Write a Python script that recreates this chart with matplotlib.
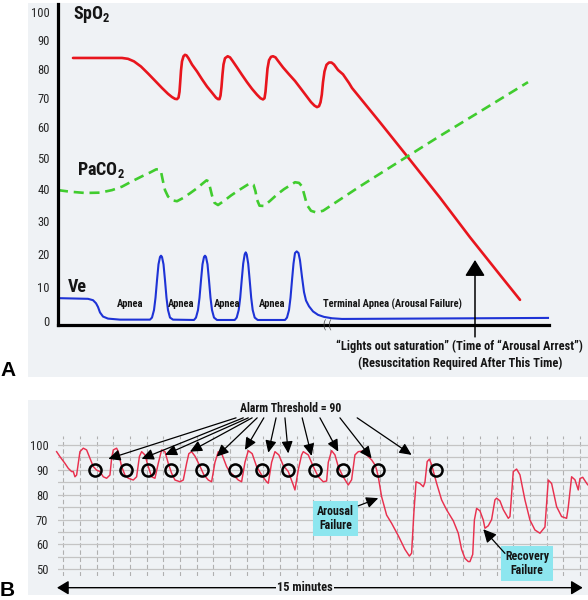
import numpy as np
import matplotlib
matplotlib.use("Agg")
import matplotlib.pyplot as plt
from matplotlib import font_manager as fm
from matplotlib.patches import Rectangle

# ---------------- Panel A data (time units arbitrary) ----------------
A_YTICKS = [0, 10, 20, 30, 40, 50, 60, 70, 80, 90, 100]

SPO2_T = [15, 64, 70, 76, 83, 90, 97, 104, 110, 114, 117, 119,
          120.5, 121.5, 122.2, 123, 124, 125.5, 127, 128.5, 130.5,
          134, 139, 144, 149, 154, 158, 160, 161.5,
          162.5, 163.5, 164.5, 165.5, 167, 169.7, 172, 174.5,
          179, 184, 189, 194, 199, 202.5, 205, 206.5,
          207.5, 208.5, 209.5, 211, 213, 215, 217.5, 220,
          225, 231, 237, 243, 249, 253, 256.5, 259, 261, 262.5, 263.8, 265,
          266.5, 268.5, 271, 273.5, 276, 280, 285, 291, 294,
          322, 350, 382, 412, 442, 462]
SPO2_V = [83.7, 83.7, 83.4, 82.5, 80.7, 78.3, 75.8, 73.3, 71.3, 70.2, 69.6, 69.5,
          70, 72, 75.3, 79.3, 82.5, 84.3, 84.8, 84.6, 83.6,
          81.4, 79, 76.3, 73.8, 71.7, 70, 69.5, 69.5,
          70.7, 73.7, 78, 81.4, 83.6, 84.3, 83.9, 82.7,
          80.4, 77.8, 75.3, 73, 71, 69.8, 69.4, 69.8,
          72, 76, 80, 82.9, 84.1, 84.3, 83.9, 82.7,
          80.4, 78, 75.7, 73, 70.3, 68.5, 67.3, 66.8, 67.1, 68.4, 71, 75.3,
          79, 81.3, 82.1, 82.1, 81.4, 79.5, 78, 75, 73.3,
          61.7, 50.2, 37.3, 25.0, 13.6, 6.2]

PACO2_T = [0, 12, 27, 42, 54, 64, 74, 84, 92, 98, 101, 103, 105, 107, 110, 114, 119,
           125, 132, 139, 145, 148.5, 150.5, 152, 154, 156.5, 160, 166, 173, 180, 187,
           192, 195.5, 197.5, 199, 201.5, 206, 212, 219, 226, 233, 237, 241, 244,
           246.5, 249, 253, 258, 265, 302, 342, 382, 422, 470]
PACO2_V = [39.7, 39.2, 38.8, 38.9, 39.7, 40.8, 42.5, 44.1, 45.3, 46.3, 46.4, 45.6, 42.5,
           39.7, 37.7, 36.5, 36.2, 37.2, 38.7, 40.3, 41.9, 42.8, 42.5, 40.6, 38, 35.7,
           35, 36.3, 38, 39.5, 40.9, 41.9, 41.4, 39.3, 36.7, 34.8, 34.7, 36.3, 38.3,
           40, 41.4, 42.2, 42, 40.9, 38, 35, 33.2, 32.7, 33.2, 40.9, 49, 57.2, 65.3, 75.3]

VE_T = [0, 30, 35, 38, 40, 42, 45, 50, 62,
        92, 94, 96, 97.5, 99, 100.5, 102, 103, 104, 105.5, 107, 108.5, 110, 112, 115,
        136, 138, 140, 141.5, 143, 144.5, 146, 147, 148, 149.5, 151, 152.5, 154, 156, 159,
        176.7, 178.7, 180.7, 182.2, 183.7, 185.2, 186.7, 187.7, 188.7, 190.2, 191.7, 193.2,
        194.7, 196.7, 199.7,
        227, 229, 231, 232.5, 234, 235.5, 237, 238.7, 240.5, 242, 244, 246, 248, 251,
        255, 260, 266, 274, 284, 490]
VE_V = [6.7, 6.5, 6.1, 5.2, 4.1, 2.5, 1.3, 0.7, 0.4,
        0.4, 1.0, 3.2, 6.8, 12, 16.8, 19, 19.4, 19, 16.8, 12, 6.8, 3.2, 1.0, 0.4,
        0.3, 1.0, 3.2, 6.8, 12, 16.8, 19, 19.4, 19, 16.8, 12, 6.8, 3.2, 1.0, 0.3,
        0.3, 1.0, 3.2, 6.8, 12, 17, 19.8, 20.4, 19.8, 17, 12, 6.8,
        3.2, 1.0, 0.3,
        0.3, 1.0, 3.2, 6.8, 12, 17, 20.2, 20.7, 20.2, 18, 13, 8.5, 6, 4.3,
        2.8, 1.8, 1.2, 0.8, 0.6, 0.9]

APNEA_T = [72, 123, 169, 214]
TERMINAL_T = 334
LIGHTS_OUT_T = 417

# ---------------- Panel B data (seconds) ----------------
B_YTICKS = [50, 60, 70, 80, 90, 100]
B_SEC = [-12, -6, 3, 9, 15, 18, 21, 24, 27, 30, 36, 42, 48, 54, 60, 66, 72, 78, 84, 87,
         90, 96, 99, 105, 111, 117, 126, 132, 137, 141, 147, 153, 159, 165, 171, 177,
         183, 189, 195, 201, 210, 216, 222, 226, 231, 237, 246, 253, 261, 267, 273,
         279, 286, 294, 300, 306, 315, 321, 327, 333, 340, 348, 357, 366, 369, 375,
         381, 388, 396, 405, 414, 417, 423, 429, 432, 441, 450, 459, 468, 474, 477,
         483, 489, 495, 503, 513, 519, 525, 531, 538, 546, 555, 561, 564, 567, 573,
         582, 591, 603, 615, 623, 627, 631, 635, 642, 648, 651, 655, 659, 663, 672,
         681, 690, 702, 711, 717, 723, 729, 732, 737, 740, 744, 750, 756, 759, 765,
         771, 777, 780, 786, 792, 801, 804, 810, 816, 822, 831, 840, 849, 858, 867,
         873, 879, 888, 897, 906, 909, 915, 921, 927, 930, 935, 942, 944]
B_SPO2 = [97.3, 95.3, 92.6, 90.6, 89.3, 89.3, 87.2, 87.9, 92.6, 97.3, 98.7, 98, 94.6,
          91.3, 89.9, 89.3, 87.2, 86.6, 87.9, 94.6, 98, 98.7, 97.3, 91.3, 87.9, 86.6,
          85.9, 87.2, 95.3, 97.3, 96, 91.3, 87.2, 86.6, 92.6, 98, 97.3, 92.6, 88.6,
          85.9, 85.2, 85.9, 92.6, 96.5, 97.3, 95.5, 91.5, 88, 85.9, 85.2, 93, 97.3,
          96, 91.3, 89, 87.9, 85.9, 85.2, 93, 97.7, 96.5, 91.3, 87.9, 85.2, 84.6, 93,
          97.3, 96, 91.7, 89.3, 83.9, 81.9, 90, 96, 97.3, 96, 91.3, 87.2, 85.2, 85.5,
          93, 97.7, 96, 91.3, 87.5, 83.9, 86, 96, 97.3, 97.5, 96, 94, 92, 90, 87.2,
          79.2, 71.8, 68.5, 63.5, 58, 55.3, 56.5, 72.5, 85.2, 84.5, 83.2, 85, 93.3,
          94.3, 92, 84.6, 77.9, 73.9, 69.5, 64.5, 58, 54.4, 53.1, 53.1, 56, 69.8,
          74.5, 73.5, 69.8, 66.5, 67.5, 70, 77.9, 78.6, 77.5, 74, 70.5, 71.2, 89.3,
          90.3, 88, 77.9, 69.8, 65.8, 64.5, 67, 85.9, 84.5, 75.2, 71.2, 70.5, 75,
          87.2, 86, 81.9, 86.5, 87, 84.6, 84]

ALARM_LEVEL = 90
ALARM_SEC = [57, 113, 153, 193, 249, 309, 357, 405, 453, 503, 567, 671]
ARROW_HEAD_SEC = [81, 141, 183, 228, 276, 327, 369, 405, 447, 495, 555, 627]
ARROW_HEAD_V = [94.4, 94.4, 96, 97.3, 95.3, 98, 96.9, 96.6, 95.6, 97.3, 94.6, 96]
ARROW_TAIL_SEC = [311, 324, 333, 340, 349, 361, 383, 399, 430, 462, 498, 529]
ARROW_TAIL_V = 110.9

# ---------------- fonts ----------------
avail = {f.name for f in fm.fontManager.ttflist}
NARROW = next((n for n in ["Liberation Sans Narrow", "Roboto Condensed",
                           "Open Sans Condensed", "Arial Narrow"] if n in avail),
              "Liberation Sans")
plt.rcParams["font.family"] = [NARROW, "DejaVu Sans"]
plt.rcParams["mathtext.fontset"] = "custom"
plt.rcParams["mathtext.rm"] = NARROW + ":bold"
plt.rcParams["mathtext.default"] = "rm"

BG = "#eff2f5"
TXT = "#151515"
W, H = 588, 600

fig = plt.figure(figsize=(W / 100, H / 100), dpi=100)
fig.patch.set_facecolor("white")
fig.patches.append(Rectangle((28 / W, 1 - 377 / H), 560 / W, 374 / H,
                             transform=fig.transFigure, fc=BG, ec="none", zorder=-10))
fig.patches.append(Rectangle((28 / W, 1 - 595 / H), 560 / W, 195 / H,
                             transform=fig.transFigure, fc=BG, ec="none", zorder=-10))

# ---------------- Panel A ----------------
C = 0.00102


def fwd(v):
    v = np.asarray(v, float)
    return v - C * v * v


def inv(u):
    u = np.asarray(u, float)
    return (1 - np.sqrt(np.maximum(1 - 4 * C * u, 0))) / (2 * C)


axA = fig.add_axes([58 / W, 1 - 325 / H, 530 / W, 321 / H])
axA.set_facecolor("none")
axA.set_yscale("function", functions=(fwd, inv))
axA.set_xlim(0, 530)
axA.set_ylim(-1.16, 103.1)
for s in ["top", "right"]:
    axA.spines[s].set_visible(False)
axA.spines["left"].set_linewidth(2.3)
axA.spines["bottom"].set_linewidth(2.3)
axA.spines["bottom"].set_bounds(0, 491)
axA.set_xticks([])
axA.set_yticks(A_YTICKS)
axA.set_yticklabels([str(v) for v in A_YTICKS])
axA.tick_params(axis="y", length=0, pad=6, labelsize=9, labelcolor="#262626")
axA.yaxis.set_minor_locator(matplotlib.ticker.NullLocator())

axA.plot(SPO2_T, SPO2_V, color="#e8151d", lw=1.9, solid_joinstyle="round",
         solid_capstyle="round")
axA.plot(PACO2_T, PACO2_V, color="#40cc2e", lw=1.9, dashes=(3.8, 2.2))
axA.plot(VE_T, VE_V, color="#1e33d6", lw=1.5, solid_joinstyle="round")

axA.text(15, 99.1, r"SpO$_2$", fontsize=13, fontweight="bold", color=TXT,
         ha="left", va="center")
axA.text(19, 46.1, r"PaCO$_2$", fontsize=13, fontweight="bold", color=TXT,
         ha="left", va="center")
axA.text(10, 10.0, "Ve", fontsize=13, fontweight="bold", color=TXT,
         ha="left", va="center")
for t in APNEA_T:
    axA.text(t, 5.0, "Apnea", fontsize=7.6, fontweight="bold", color=TXT,
             ha="center", va="center")
axA.text(TERMINAL_T, 5.0, "Terminal Apnea (Arousal Failure)", fontsize=7.6,
         fontweight="bold", color=TXT, ha="center", va="center")
axA.text(269, -1.16, "( (", fontsize=7, color="#444444", ha="center", va="center")

axA.annotate("", xy=(LIGHTS_OUT_T, 18.1), xytext=(LIGHTS_OUT_T, -4.6),
             arrowprops=dict(arrowstyle="-|>,head_length=0.45,head_width=0.28",
                             mutation_scale=22, lw=1.1, color="black",
                             shrinkA=0, shrinkB=0),
             annotation_clip=False)
axA.text(401, -7.2, "\u201cLights out saturation\u201d (Time of \u201cArousal Arrest\u201d)",
         fontsize=8.9, fontweight="bold", color=TXT, ha="center", va="center",
         clip_on=False)
axA.text(402, -12.1, "(Resuscitation Required After This Time)",
         fontsize=8.9, fontweight="bold", color=TXT, ha="center", va="center",
         clip_on=False)

# ---------------- Panel B ----------------
axB = fig.add_axes([58 / W, 1 - 576 / H, 530 / W, 140 / H])
axB.set_facecolor("none")
axB.set_xlim(-9.5, 944.5)
axB.set_ylim(47.3, 103.6)
for s in axB.spines.values():
    s.set_visible(False)
axB.set_xticks([])
axB.set_yticks(B_YTICKS)
axB.set_yticklabels([str(v) for v in B_YTICKS])
axB.tick_params(axis="y", length=0, pad=7, labelsize=9, labelcolor="#262626")

for s in range(0, 931, 30):
    axB.axvline(s, color="#b0b0b0", lw=0.8, dashes=(4, 2.5), zorder=0)
for v in range(50, 101, 5):
    axB.axhline(v, color="#c4c4c4", lw=0.9, zorder=0)

axB.plot(B_SEC, B_SPO2, color="#e8304e", lw=1.05, clip_on=False, zorder=2)
axB.plot(ALARM_SEC, [ALARM_LEVEL] * len(ALARM_SEC), "o", mfc="none", mec="black",
         ms=8.7, mew=1.8, zorder=3)

for hs, hv, ts in zip(ARROW_HEAD_SEC, ARROW_HEAD_V, ARROW_TAIL_SEC):
    axB.annotate("", xy=(hs, hv), xytext=(ts, ARROW_TAIL_V),
                 arrowprops=dict(arrowstyle="-|>,head_length=0.6,head_width=0.28",
                                 mutation_scale=12, lw=0.9, color="black",
                                 shrinkA=0, shrinkB=0),
                 annotation_clip=False, zorder=4)
axB.text(410, 114.5, "Alarm Threshold = 90", fontsize=8.5, fontweight="bold",
         color=TXT, ha="center", va="center", clip_on=False)

box = dict(boxstyle="square,pad=0.35", fc="#8de6ef", ec="none")
axB.text(490, 70.5, "Arousal\nFailure", fontsize=8.6, fontweight="bold", color=TXT,
         ha="center", va="center", linespacing=1.05, bbox=box)
axB.annotate("", xy=(567, 78.6), xytext=(531, 75.5),
             arrowprops=dict(arrowstyle="-|>,head_length=0.6,head_width=0.28",
                             mutation_scale=12, lw=0.9, color="black",
                             shrinkA=0, shrinkB=0), annotation_clip=False)
axB.text(835, 52.4, "Recovery\nFailure", fontsize=8.6, fontweight="bold", color=TXT,
         ha="center", va="center", linespacing=1.05, bbox=box)
axB.annotate("", xy=(756, 66.1), xytext=(795, 56.4),
             arrowprops=dict(arrowstyle="-|>,head_length=0.6,head_width=0.3",
                             mutation_scale=13, lw=0.9, color="black",
                             shrinkA=0, shrinkB=0), annotation_clip=False)

axB.annotate("", xy=(-11.3, 42.6), xytext=(935, 42.6),
             arrowprops=dict(arrowstyle="<|-|>,head_length=0.5,head_width=0.3",
                             mutation_scale=14, lw=1.0, color="black",
                             shrinkA=0, shrinkB=0), annotation_clip=False)
axB.text(435, 42.6, "15 minutes", fontsize=9, fontweight="bold", color=TXT,
         ha="center", va="center", clip_on=False,
         bbox=dict(boxstyle="square,pad=0.1", fc=BG, ec="none"))

fig.text(8.3 / W, 1 - 370 / H, "A", fontsize=15, fontweight="bold", color="black",
         ha="center", va="center", family=["Liberation Sans", "DejaVu Sans"])
fig.text(7.5 / W, 1 - 590 / H, "B", fontsize=15, fontweight="bold", color="black",
         ha="center", va="center", family=["Liberation Sans", "DejaVu Sans"])

fig.savefig("out.png", dpi=100, facecolor="white")
